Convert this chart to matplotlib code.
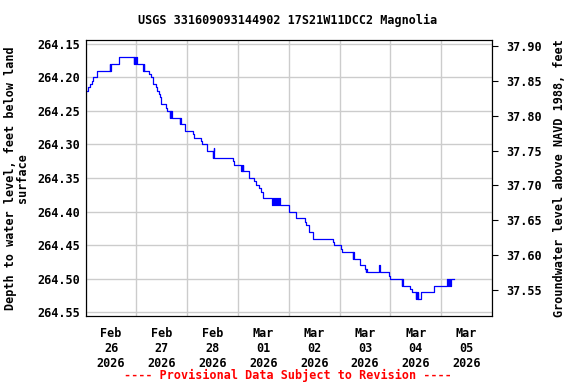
import matplotlib
matplotlib.use("Agg")
import matplotlib.pyplot as plt
import matplotlib.dates as mdates
from datetime import datetime, timedelta

# Step changes: hours after 2026-02-26 00:00, depth (ft)
hours = [0, 1.25, 2.0, 2.75, 3.25, 5.5, 11.25, 11.5, 11.75, 15.75,
         22.75, 23.0, 23.5, 23.75, 24.25, 27.25, 27.5, 27.75, 30.0, 30.75,
         32.0, 33.0, 33.5, 34.5, 35.0, 35.75, 38.0, 38.5, 39.75, 40.0,
         40.25, 40.5, 40.75, 44.5, 44.75, 45.0, 47.0, 50.5, 51.0, 54.25,
         55.0, 57.5, 60.0, 60.25, 60.5, 60.75, 69.5, 70.25, 73.5, 73.75,
         74.0, 74.25, 74.5, 77.25, 79.5, 80.5, 81.75, 82.75, 83.75, 88.25,
         88.5, 89.0, 89.25, 90.0, 90.25, 91.0, 91.25, 91.75, 96.0, 99.25,
         103.5, 104.25, 105.5, 107.5, 116.75, 117.25, 120.75, 121.25, 126.25, 126.5,
         127.0, 129.75, 132.0, 132.25, 132.5, 132.75, 138.75, 139.25, 143.25, 144.0,
         149.25, 149.5, 150.0, 153.25, 154.0, 156.0, 156.25, 156.5, 157.0, 157.25,
         158.5, 164.75, 170.75, 171.25, 171.75, 172.25, 172.5, 174.25]
depth = [264.22, 264.215, 264.21, 264.205, 264.20, 264.19, 264.18, 264.19, 264.18, 264.17,
         264.18, 264.17, 264.18, 264.17, 264.18, 264.19, 264.18, 264.19, 264.195, 264.20,
         264.21, 264.215, 264.22, 264.225, 264.23, 264.24, 264.245, 264.25, 264.26, 264.25,
         264.26, 264.25, 264.26, 264.27, 264.26, 264.27, 264.28, 264.285, 264.29, 264.295,
         264.30, 264.31, 264.32, 264.31, 264.305, 264.32, 264.325, 264.33, 264.34, 264.33,
         264.34, 264.33, 264.34, 264.35, 264.355, 264.36, 264.365, 264.37, 264.38, 264.39,
         264.38, 264.39, 264.38, 264.39, 264.38, 264.39, 264.38, 264.39, 264.40, 264.41,
         264.415, 264.42, 264.43, 264.44, 264.445, 264.45, 264.455, 264.46, 264.47, 264.46,
         264.47, 264.48, 264.485, 264.49, 264.485, 264.49, 264.48, 264.49, 264.495, 264.50,
         264.51, 264.50, 264.51, 264.515, 264.52, 264.53, 264.52, 264.53, 264.52, 264.53,
         264.52, 264.51, 264.50, 264.51, 264.50, 264.51, 264.50, 264.50]

left_ticks = [264.15, 264.20, 264.25, 264.30, 264.35, 264.40, 264.45, 264.50, 264.55]
right_ticks = [37.55, 37.60, 37.65, 37.70, 37.75, 37.80, 37.85, 37.90]

start = datetime(2026, 2, 26)
times = [start + timedelta(hours=h) for h in hours]

font = "DejaVu Sans Mono"
plt.rcParams['font.family'] = font
plt.rcParams['font.weight'] = 'bold'

fig = plt.figure(figsize=(5.76, 3.84), dpi=100)
ax = fig.add_axes([0.1488, 0.1763, 0.7054, 0.7195])

ax.plot(times, depth, color='#0000ff', linewidth=0.9, drawstyle='steps-post')

ax.set_xlim(start, start + timedelta(days=8))
ax.set_ylim(264.5557, 264.1445)
ax.set_yticks(left_ticks)
ax.set_yticklabels([f"{v:.2f}" for v in left_ticks], fontsize=8.5, fontweight='bold')

# labels at noon, grid at midnight
ax.xaxis.set_major_locator(mdates.HourLocator(byhour=[12]))
ax.xaxis.set_major_formatter(mdates.DateFormatter('%b\n%d\n%Y'))
ax.xaxis.set_minor_locator(mdates.HourLocator(byhour=[0]))
ax.tick_params(axis='x', which='major', length=0, pad=8, labelsize=8.5)
ax.tick_params(axis='x', which='minor', length=0)
ax.tick_params(axis='y', length=0, pad=4)
for lbl in ax.get_xticklabels():
    lbl.set_fontweight('bold')
ax.grid(True, which='minor', axis='x', color='#cccccc', linewidth=1)
ax.grid(True, which='major', axis='y', color='#cccccc', linewidth=1)
ax.set_axisbelow(True)

ax.set_ylabel("Depth to water level, feet below land\nsurface", fontsize=8.5,
              fontweight='bold', linespacing=0.95, labelpad=6)

ax2 = ax.twinx()
ax2.set_ylim(37.5123, 37.9086)
ax2.set_yticks(right_ticks)
ax2.set_yticklabels([f"{v:.2f}" for v in right_ticks], fontsize=8.5, fontweight='bold')
ax2.tick_params(axis='y', direction='out', length=4, pad=6)
ax2.set_ylabel("Groundwater level above NAVD 1988, feet", fontsize=8.5,
               fontweight='bold', labelpad=8)

fig.text(0.5, 1 - 20 / 384, "USGS 331609093144902 17S21W11DCC2 Magnolia",
         ha='center', va='center', fontsize=8.5, fontweight='bold')
fig.text(0.5, 1 - 375 / 384, "---- Provisional Data Subject to Revision ----",
         ha='center', va='center', fontsize=8.5, fontweight='bold', color='red')

fig.savefig("out.png", dpi=100)
